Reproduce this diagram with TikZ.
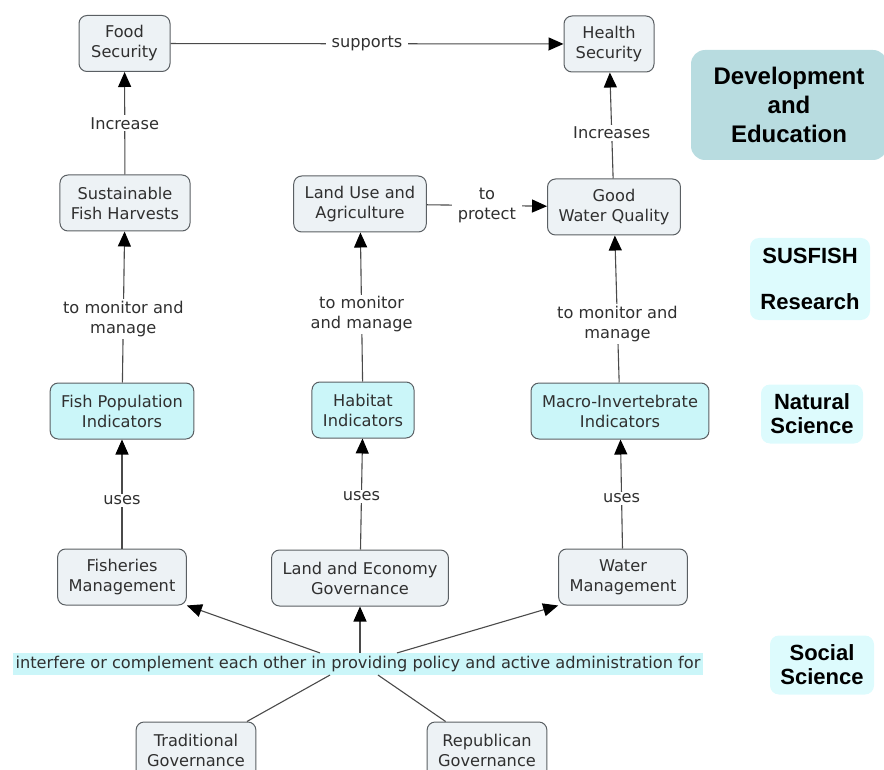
\documentclass[tikz,border=0pt]{standalone}
\usepackage{fontspec}
\setmainfont{DejaVu Sans}
\newfontfamily\boldlabel{Liberation Sans}
\usetikzlibrary{calc,arrows.meta,positioning}
\definecolor{boxline}{HTML}{5A5F63}
\definecolor{conceptfill}{HTML}{EDF2F5}
\definecolor{indfill}{HTML}{CBF6F9}
\definecolor{discfill}{HTML}{DDFBFD}
\definecolor{devfill}{HTML}{B8DCE0}
\definecolor{lineclr}{HTML}{4A4A4A}
\definecolor{txtclr}{HTML}{303030}
\newcommand{\cmapfont}{\fontsize{16.2}{20}\selectfont}

\tikzset{
  concept/.style={draw=boxline, fill=conceptfill, rounded corners=8pt, align=center,
    inner xsep=11pt, minimum height=56pt, font=\cmapfont, text=txtclr, line width=1pt},
  indicator/.style={concept, fill=indfill},
  linkword/.style={fill=white, inner xsep=6pt, inner ysep=2pt, align=center, font=\cmapfont, text=txtclr},
  connect/.style={draw=lineclr, line width=1.1pt, -{Triangle[length=15pt,width=13pt,color=black]}},
  plainline/.style={draw=lineclr, line width=1.1pt},
  discipline/.style={fill=discfill, rounded corners=9pt, align=center,
    font=\boldlabel\bfseries\fontsize{22}{24}\selectfont, inner sep=9pt},
}

\begin{document}
\begin{tikzpicture}[x=1pt,y=-1pt]
\useasboundingbox (0,0) rectangle (884,770);

\node[concept, minimum width=91pt] (food) at (124.5,43.5) {Food\\Security};
\node[concept, minimum width=90pt] (health) at (609,44) {Health\\Security};
\node[concept] (harvest) at (125,203) {Sustainable\\Fish Harvests};
\node[concept] (landuse) at (360,204) {Land Use and\\Agriculture};
\node[concept] (water) at (614,207) {Good\\Water Quality};
\node[indicator] (fishpop) at (122,411) {Fish Population\\Indicators};
\node[indicator] (habitat) at (363,410) {Habitat\\Indicators};
\node[indicator] (macro) at (620,411) {Macro-Invertebrate\\Indicators};
\node[concept] (fisheries) at (122,577) {Fisheries\\Management};
\node[concept] (landgov) at (360,578) {Land and Economy\\Governance};
\node[concept] (watermgmt) at (623,577) {Water\\Management};
\node[concept] (trad) at (196,750) {Traditional\\Governance};
\node[concept] (repub) at (487,750) {Republican\\Governance};

\node[fill=indfill, inner sep=3pt, font=\cmapfont, text=txtclr] (policy) at (358,664)
  {interfere or complement each other in providing policy and active administration for};

\node[discipline, fill=devfill, rounded corners=14pt, minimum width=196pt, minimum height=110pt,
  font=\boldlabel\bfseries\fontsize{24}{29}\selectfont] (dev) at (789,105) {Development\\and\\Education};
\node[discipline, minimum width=120pt, minimum height=82pt] (susfish) at (810,279) {SUSFISH\\[22pt]Research};
\node[discipline, minimum width=102pt, minimum height=59pt] (natsci) at (812,414) {Natural\\Science};
\node[discipline, minimum width=104pt, minimum height=59pt] (socsci) at (822,665) {Social\\Science};

\draw[connect] (food) -- node[linkword] {supports} (health);
\draw[connect] (harvest) -- node[linkword] {Increase} (food);
\draw[connect] (water) -- node[linkword, pos=0.43] {Increases} (health);
\draw[connect] (landuse) -- node[linkword] {to\\protect} (water);
\draw[connect] (fishpop) -- node[linkword, pos=0.42] {to monitor and\\manage} (harvest);
\draw[connect] (habitat) -- node[linkword, pos=0.45] {to monitor\\and manage} (landuse);
\draw[connect] (macro) -- node[linkword, pos=0.4] {to monitor and\\manage} (water);
\draw[connect] (fisheries) -- node[linkword, pos=0.44] {uses} (fishpop);
\draw[connect] (landgov) -- node[linkword, pos=0.48] {uses} (habitat);
\draw[connect] (watermgmt) -- node[linkword, pos=0.46] {uses} (macro);

\draw[connect] ([xshift=-38pt]policy.north) -- (fisheries.south east);
\draw[connect] ([xshift=2pt]policy.north) -- (landgov);
\draw[connect] ([xshift=39pt]policy.north) -- (watermgmt.south west);
\draw[plainline] (trad) -- ([xshift=-28pt]policy.south);
\draw[plainline] (repub) -- ([xshift=20pt]policy.south);
\end{tikzpicture}
\end{document}
